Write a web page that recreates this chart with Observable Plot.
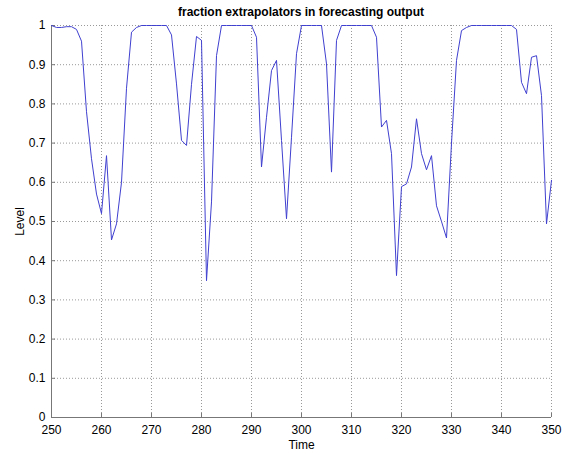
<!DOCTYPE html>
<html>
<head>
<meta charset="utf-8">
<script src="https://cdn.jsdelivr.net/npm/d3@7"></script>
<script src="https://cdn.jsdelivr.net/npm/@observablehq/plot@0.6"></script>
<style>
  html, body { margin: 0; padding: 0; background: #fff; }
  #title { width: 575px; height: 12px; box-sizing: border-box; padding-left: 51px; padding-right: 24px;
           font: bold 12px "Liberation Sans", Arial, sans-serif; line-height: 12px; text-align: center; color: #000; overflow: visible; }
  #title span { position: relative; top: 6px; }
</style>
</head>
<body>
<div id="title"><span>fraction extrapolators in forecasting output</span></div>
<div id="chart"></div>
<script>
const startTime = 250;
const levels = [
  1.0, 0.995, 0.995, 0.997, 0.997, 0.99, 0.96, 0.78, 0.66, 0.57,
  0.52, 0.668, 0.453, 0.494, 0.60, 0.84, 0.983, 0.995, 1.0, 1.0,
  1.0, 1.0, 1.0, 1.0, 0.976, 0.851, 0.707, 0.694, 0.85, 0.972,
  0.962, 0.349, 0.55, 0.923, 1.0, 1.0, 1.0, 1.0, 1.0, 1.0,
  1.0, 0.97, 0.639, 0.766, 0.885, 0.911, 0.707, 0.507, 0.715, 0.928,
  1.0, 1.0, 1.0, 1.0, 1.0, 0.902, 0.626, 0.962, 1.0, 1.0,
  1.0, 1.0, 1.0, 1.0, 1.0, 0.97, 0.741, 0.758, 0.673, 0.362,
  0.589, 0.596, 0.639, 0.762, 0.673, 0.632, 0.668, 0.54, 0.50, 0.458,
  0.70, 0.911, 0.987, 0.995, 1.0, 1.0, 1.0, 1.0, 1.0, 1.0,
  1.0, 1.0, 1.0, 0.99, 0.855, 0.826, 0.919, 0.923, 0.821, 0.494,
  0.605
];
const xTicks = [250, 260, 270, 280, 290, 300, 310, 320, 330, 340, 350];
const yTicks = [0, 0.1, 0.2, 0.3, 0.4, 0.5, 0.6, 0.7, 0.8, 0.9, 1];
const yTickLabels = ["0", "0.1", "0.2", "0.3", "0.4", "0.5", "0.6", "0.7", "0.8", "0.9", "1"];

const series = levels.map((v, i) => ({time: startTime + i, level: v}));

const chart = Plot.plot({
  width: 575,
  height: 443,
  marginTop: 13,
  marginBottom: 38,
  marginLeft: 51,
  marginRight: 24,
  style: {fontFamily: "'Liberation Sans', Arial, sans-serif", fontSize: "12px", color: "#000", background: "#fff", overflow: "visible"},
  x: {domain: [250, 350]},
  y: {domain: [0, 1]},
  marks: [
    Plot.gridX(xTicks, {stroke: "#999", strokeOpacity: 1, strokeDasharray: "1,2"}),
    Plot.gridY(yTicks, {stroke: "#999", strokeOpacity: 1, strokeDasharray: "1,2"}),
    Plot.axisX(xTicks, {tickSize: -4, tickPadding: 12, stroke: "#777", fill: "#000", fontSize: 12,
      label: "Time", labelAnchor: "center", labelArrow: false, labelOffset: 31}),
    Plot.axisY(yTicks, {tickSize: -4, tickPadding: 10, stroke: "#777", fill: "#000", fontSize: 12,
      tickFormat: (d) => yTickLabels[yTicks.indexOf(d)],
      label: "Level", labelAnchor: "center", labelArrow: false, labelOffset: 36}),
    Plot.ruleY([0], {stroke: "#777"}),
    Plot.ruleX([250], {stroke: "#777"}),
    Plot.line(series, {x: "time", y: "level", stroke: "#4040d0", strokeWidth: 1})
  ]
});
document.getElementById("chart").appendChild(chart);
</script>
</body>
</html>
